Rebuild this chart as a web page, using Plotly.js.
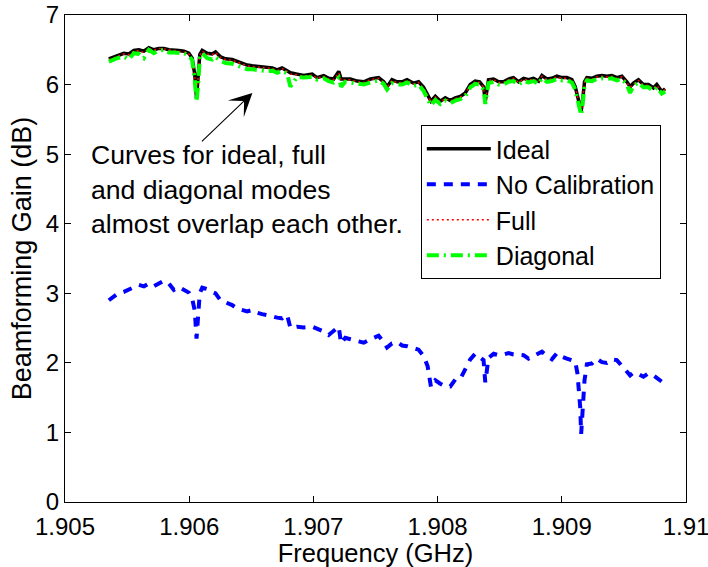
<!DOCTYPE html>
<html>
<head>
<meta charset="utf-8">
<script src="https://cdn.plot.ly/plotly-3.0.1.min.js"></script>
<style>html,body{margin:0;padding:0;background:#fff;}#chart{width:708px;height:567px;}</style>
</head>
<body>
<div id="chart"></div>
<script>
// Frequency (GHz)
var freq = [1.905353,1.905421,1.905474,1.905514,1.905554,1.905595,1.905635,1.905675,1.905715,1.905755,
1.905796,1.905836,1.905876,1.905916,1.905957,1.905997,1.906024,1.906045,1.906059,1.906072,
1.906085,1.906105,1.906145,1.906185,1.906212,1.906252,1.906292,1.906346,1.906386,1.906426,
1.906467,1.906507,1.906547,1.906587,1.906628,1.906668,1.906708,1.906748,1.906788,1.906815,
1.906869,1.906922,1.906990,1.907030,1.907083,1.907123,1.907163,1.907204,1.907223,1.907257,
1.907298,1.907352,1.907405,1.907459,1.907525,1.907566,1.907593,1.907633,1.907673,1.907714,
1.907754,1.907807,1.907847,1.907887,1.907920,1.907947,1.907982,1.908022,1.908062,1.908102,
1.908142,1.908183,1.908223,1.908263,1.908303,1.908338,1.908370,1.908384,1.908410,1.908451,
1.908491,1.908531,1.908571,1.908611,1.908652,1.908692,1.908732,1.908772,1.908813,1.908840,
1.908880,1.908920,1.908961,1.909001,1.909041,1.909081,1.909108,1.909126,1.909148,1.909156,
1.909167,1.909183,1.909202,1.909242,1.909282,1.909323,1.909363,1.909403,1.909443,1.909484,
1.909524,1.909550,1.909577,1.909617,1.909657,1.909698,1.909738,1.909765,1.909805,1.909832];

var ideal = [6.37,6.42,6.45,6.44,6.49,6.50,6.48,6.53,6.50,6.52,
6.52,6.50,6.50,6.49,6.48,6.45,6.38,6.14,5.81,6.10,
6.43,6.49,6.45,6.44,6.47,6.40,6.37,6.36,6.33,6.31,
6.28,6.27,6.26,6.25,6.24,6.24,6.21,6.24,6.20,6.17,
6.15,6.13,6.15,6.10,6.13,6.09,6.08,6.19,6.08,6.08,
6.08,6.05,6.04,6.08,6.10,6.04,5.97,6.07,6.04,6.04,
6.07,6.02,6.04,5.96,5.86,5.76,5.83,5.76,5.81,5.77,
5.81,5.83,5.88,6.00,6.05,6.04,5.97,5.76,6.07,6.08,
6.04,6.04,6.08,6.10,6.04,6.09,6.07,6.09,6.05,6.13,
6.08,6.09,6.12,6.10,6.10,6.07,5.97,5.83,5.64,5.62,
5.76,6.04,6.10,6.09,6.12,6.13,6.12,6.13,6.10,6.12,
6.04,5.97,6.02,6.07,6.00,6.00,5.95,6.00,5.90,5.94];

var noCal = [2.90,2.99,3.02,3.05,3.08,3.12,3.10,3.14,3.10,3.14,
3.18,3.14,3.05,3.09,3.05,3.01,2.92,2.75,2.35,2.76,
3.00,3.08,3.06,3.02,3.00,2.90,2.87,2.83,2.78,2.76,
2.74,2.76,2.72,2.70,2.69,2.67,2.65,2.64,2.69,2.50,
2.52,2.51,2.52,2.49,2.45,2.40,2.46,2.52,2.28,2.36,
2.34,2.31,2.29,2.34,2.39,2.30,2.22,2.28,2.30,2.25,
2.24,2.21,2.19,2.10,1.95,1.65,1.75,1.70,1.66,1.66,
1.76,1.77,1.92,2.05,2.13,2.09,2.04,1.72,2.07,2.13,
2.11,2.12,2.14,2.12,2.11,2.11,2.06,2.10,2.13,2.16,
2.10,2.05,2.14,2.09,2.06,2.04,2.02,1.85,1.37,0.98,
1.30,1.75,1.98,1.99,2.06,2.01,2.00,2.05,2.04,1.95,
1.88,1.82,1.86,1.84,1.80,1.85,1.82,1.78,1.73,1.75];

var full = [6.36,6.41,6.44,6.43,6.48,6.49,6.46,6.52,6.49,6.52,
6.51,6.49,6.49,6.47,6.47,6.44,6.37,6.12,5.80,6.09,
6.42,6.48,6.44,6.43,6.46,6.39,6.36,6.35,6.32,6.30,
6.27,6.26,6.25,6.24,6.23,6.23,6.20,6.23,6.19,6.15,
6.14,6.12,6.14,6.09,6.12,6.08,6.07,6.17,6.06,6.07,
6.07,6.04,6.03,6.07,6.09,6.03,5.96,6.06,6.03,6.03,
6.06,6.01,6.03,5.95,5.85,5.75,5.82,5.75,5.80,5.76,
5.80,5.82,5.87,5.99,6.04,6.03,5.96,5.75,6.06,6.07,
6.03,6.03,6.07,6.09,6.03,6.08,6.06,6.08,6.04,6.12,
6.07,6.08,6.11,6.09,6.09,6.06,5.96,5.82,5.63,5.61,
5.75,6.03,6.09,6.08,6.11,6.12,6.11,6.12,6.09,6.11,
6.03,5.96,6.01,6.06,5.99,5.99,5.94,5.99,5.89,5.93];

var diagonal = [6.33,6.38,6.40,6.36,6.45,6.44,6.38,6.50,6.45,6.49,
6.50,6.46,6.46,6.45,6.45,6.42,6.35,6.05,5.75,6.00,
6.38,6.45,6.38,6.36,6.40,6.34,6.31,6.30,6.27,6.24,
6.22,6.22,6.21,6.20,6.19,6.20,6.17,6.20,6.16,5.97,
6.11,6.10,6.11,6.07,6.09,6.05,6.03,6.10,5.97,6.04,
6.03,6.01,6.00,6.03,6.06,6.01,5.93,6.02,6.00,6.00,
6.03,5.98,6.00,5.91,5.80,5.70,5.78,5.72,5.77,5.73,
5.77,5.79,5.83,5.96,6.01,6.00,5.93,5.72,6.02,6.04,
6.00,6.00,6.04,6.05,6.00,6.05,6.03,6.05,6.01,6.09,
6.04,6.05,6.08,6.06,6.06,6.03,5.93,5.78,5.57,5.56,
5.70,5.99,6.06,6.05,6.08,6.09,6.08,6.09,6.06,6.08,
6.00,5.88,5.98,6.03,5.96,5.96,5.91,5.96,5.87,5.90];

var seriesNames = ['Ideal', 'No Calibration', 'Full', 'Diagonal'];
var xTickVals = [1.905, 1.906, 1.907, 1.908, 1.909, 1.91];
var xTickText = ['1.905', '1.906', '1.907', '1.908', '1.909', '1.91'];
var yTickVals = [0, 1, 2, 3, 4, 5, 6, 7];
var noteLines = ['Curves for ideal, full', 'and diagonal modes', 'almost overlap each other.'];

var FONT = 'Liberation Sans, Arial, Helvetica, sans-serif';

var traces = [
  {x: freq, y: ideal, name: seriesNames[0], mode: 'lines', legendgroup: 'a',
   line: {color: '#000000', width: 3.5}},
  {x: freq, y: noCal, name: seriesNames[1], mode: 'lines', legendgroup: 'b',
   line: {color: '#0000ff', width: 4, dash: '9px,8px'}},
  {x: freq, y: full, name: seriesNames[2], mode: 'lines', legendgroup: 'c',
   line: {color: '#ff0000', width: 1.5, dash: '2px,3px'}},
  {x: freq, y: diagonal, name: seriesNames[3], mode: 'lines', legendgroup: 'd',
   line: {color: '#00ff00', width: 4, dash: '12px,5px,2px,5px'}}
];

var axisCommon = {
  showline: true, linecolor: '#000', linewidth: 1, mirror: 'ticks',
  ticks: 'inside', ticklen: 6, tickcolor: '#000', showgrid: false, zeroline: false,
  tickfont: {family: FONT, size: 24, color: '#000'}
};

var layout = {
  width: 708, height: 567,
  margin: {l: 65, r: 22, t: 15, b: 65},
  paper_bgcolor: '#fff', plot_bgcolor: '#fff',
  font: {family: FONT, color: '#000'},
  xaxis: Object.assign({}, axisCommon, {
    range: [1.905, 1.9100001], tickmode: 'array', tickvals: xTickVals, ticktext: xTickText,
    ticklabelstandoff: 3, ticklabeloverflow: 'allow',
    title: {text: 'Frequency (GHz)', font: {family: FONT, size: 25.5, color: '#000'}, standoff: 5}
  }),
  yaxis: Object.assign({}, axisCommon, {
    range: [0, 7], tickmode: 'array', tickvals: yTickVals,
    title: {text: 'Beamforming Gain (dB)', font: {family: FONT, size: 27, color: '#000'}, standoff: 6}
  }),
  showlegend: true,
  legend: {
    x: 0.573, y: 0.774, xanchor: 'left', yanchor: 'top',
    bgcolor: '#fff', bordercolor: '#000', borderwidth: 1,
    font: {family: FONT, size: 25, color: '#000'},
    traceorder: 'grouped', tracegroupgap: 0, itemwidth: 64
  },
  annotations: [
    {x: 1.906509, y: 5.88, xref: 'x', yref: 'y', text: '', showarrow: true,
     ax: -52, ay: 50, arrowhead: 3, arrowsize: 3.5, arrowwidth: 1.1, arrowcolor: '#000'},
    {x: 1.905190, y: 4.49, xref: 'x', yref: 'y', xanchor: 'left', yanchor: 'middle', align: 'left',
     showarrow: false, text: noteLines.join('<br>'),
     font: {family: FONT, size: 26.6, color: '#000'}}
  ]
};

Plotly.newPlot('chart', traces, layout, {displayModeBar: false, staticPlot: true});
</script>
</body>
</html>
